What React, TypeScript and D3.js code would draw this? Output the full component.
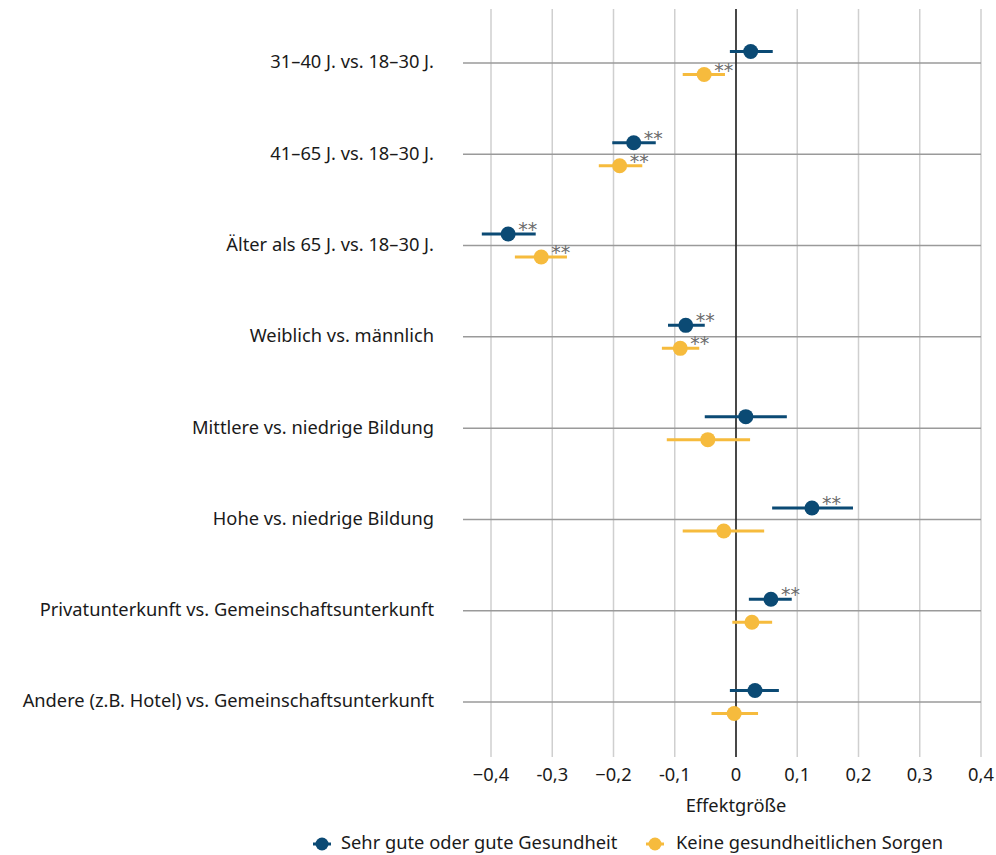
import React from "react";
import * as d3 from "d3";

const categories = [
  "31–40 J. vs. 18–30 J.",
  "41–65 J. vs. 18–30 J.",
  "Älter als 65 J. vs. 18–30 J.",
  "Weiblich vs. männlich",
  "Mittlere vs. niedrige Bildung",
  "Hohe vs. niedrige Bildung",
  "Privatunterkunft vs. Gemeinschaftsunterkunft",
  "Andere (z.B. Hotel) vs. Gemeinschaftsunterkunft",
];

const healthEst = [0.024, -0.167, -0.372, -0.082, 0.016, 0.124, 0.057, 0.031];
const healthLo = [-0.01, -0.202, -0.415, -0.111, -0.051, 0.059, 0.021, -0.01];
const healthHi = [0.06, -0.131, -0.327, -0.051, 0.083, 0.191, 0.091, 0.07];
const healthSig = [false, true, true, true, false, true, true, false];

const worryEst = [-0.052, -0.19, -0.318, -0.091, -0.046, -0.02, 0.026, -0.003];
const worryLo = [-0.087, -0.224, -0.361, -0.121, -0.113, -0.087, -0.006, -0.04];
const worryHi = [-0.018, -0.153, -0.276, -0.06, 0.023, 0.046, 0.059, 0.036];
const worrySig = [true, true, true, true, false, false, false, false];

const tickValues = [-0.4, -0.3, -0.2, -0.1, 0, 0.1, 0.2, 0.3, 0.4];
const tickLabels = ["−0,4", "-0,3", "−0,2", "-0,1", "0", "0,1", "0,2", "0,3", "0,4"];

const seriesNames = ["Sehr gute oder gute Gesundheit", "Keine gesundheitlichen Sorgen"];
const BLUE = "#0b4a74";
const YELLOW = "#f6bb3d";

const FONT = "'Noto Sans', sans-serif";
const FS = 18.3;

export default function App() {
  const W = 996, H = 855;
  const x = d3.scaleLinear().domain([-0.4, 0.4]).range([491, 981]);
  const y = d3.scalePoint<string>().domain(categories).range([63, 702]);
  const off = 11.5;

  const series = [
    { est: healthEst, lo: healthLo, hi: healthHi, sig: healthSig, color: BLUE, dy: -off },
    { est: worryEst, lo: worryLo, hi: worryHi, sig: worrySig, color: YELLOW, dy: off },
  ];

  return (
    <svg width={W} height={H} style={{ position: "absolute", left: 0, top: 0, background: "#fff" }} fontFamily={FONT}>
      {tickValues.map((t, i) => (
        <line key={"vg" + i} x1={x(t)} x2={x(t)} y1={9} y2={757} stroke="#cfcfcf" strokeWidth={1.5} />
      ))}
      {categories.map((c) => (
        <line key={"hg" + c} x1={463} x2={981} y1={y(c)} y2={y(c)} stroke="#9a9a9a" strokeWidth={1.5} />
      ))}
      <line x1={x(0)} x2={x(0)} y1={9} y2={757} stroke="#222" strokeWidth={1.6} />
      {categories.map((c) => (
        <text key={"lab" + c} x={434} y={y(c) - 1} dy="0.35em" textAnchor="end" fontSize={FS} fill="#1a1a1a">
          {c}
        </text>
      ))}
      {series.map((s, si) =>
        categories.map((c, i) => {
          const cy = (y(c) as number) + s.dy;
          return (
            <g key={"p" + si + "-" + i}>
              <line x1={x(s.lo[i])} x2={x(s.hi[i])} y1={cy} y2={cy} stroke={s.color} strokeWidth={3} />
              <circle cx={x(s.est[i])} cy={cy} r={7.5} fill={s.color} />
              {s.sig[i] && (
                <text x={x(s.est[i]) + 10} y={cy + 2} fontSize={19} fill="#6b6b6b" fontFamily="'DejaVu Sans', sans-serif">
                  **
                </text>
              )}
            </g>
          );
        })
      )}
      {tickValues.map((t, i) => (
        <text key={"tl" + i} x={x(t)} y={781} textAnchor="middle" fontSize={FS} fill="#1a1a1a">
          {tickLabels[i]}
        </text>
      ))}
      <text x={x(0)} y={812} textAnchor="middle" fontSize={FS} fill="#1a1a1a">
        Effektgröße
      </text>
      {[
        { lx: 322, tx: 341, color: BLUE, name: seriesNames[0] },
        { lx: 655, tx: 676, color: YELLOW, name: seriesNames[1] },
      ].map((l) => (
        <g key={l.name}>
          <line x1={l.lx - 9} x2={l.lx + 9} y1={844} y2={844} stroke={l.color} strokeWidth={3} />
          <circle cx={l.lx} cy={844} r={6.5} fill={l.color} />
          <text x={l.tx} y={843} dy="0.35em" fontSize={FS} fill="#1a1a1a">
            {l.name}
          </text>
        </g>
      ))}
    </svg>
  );
}
